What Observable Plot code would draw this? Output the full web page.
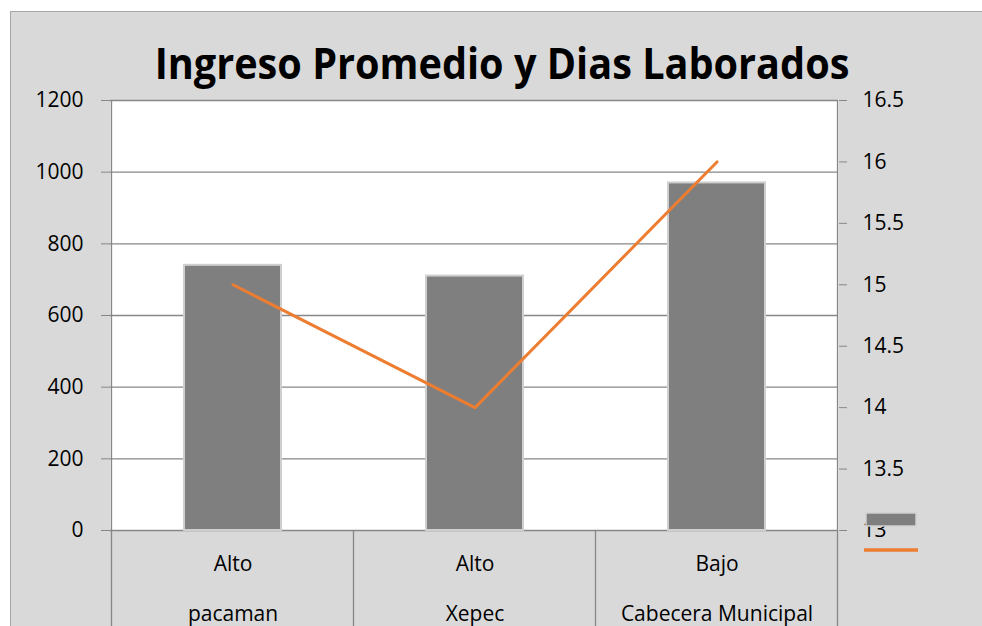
<!DOCTYPE html>
<html>
<head>
<meta charset="utf-8">
<script src="https://cdn.jsdelivr.net/npm/d3@7"></script>
<script src="https://cdn.jsdelivr.net/npm/@observablehq/plot@0.6"></script>
<style>
  html, body { margin: 0; padding: 0; background: #ffffff; overflow: hidden; width: 982px; height: 626px; }
  #frame { position: absolute; left: 10px; top: 11px; width: 1000px; height: 700px; background: #d9d9d9; border: 1px solid #a6a6a6; box-sizing: border-box; }
  #chart { position: absolute; left: 0; top: 0; }
</style>
</head>
<body>
<div id="frame"></div>
<div id="chart"></div>
<script>
const zonas = ["Alto", "Alto", "Bajo"];
const lugares = ["pacaman", "Xepec", "Cabecera Municipal"];
const ingreso = [740, 710, 970];
const dias = [15, 14, 16];
const leftTicks = [0, 200, 400, 600, 800, 1000, 1200];
const rightTicks = [13, 13.5, 14, 14.5, 15, 15.5, 16, 16.5];
const titulo = "Ingreso Promedio y Dias Laborados";

const leftDomain = [0, 1200];
const rightDomain = [13, 16.5];
const toLeft = v => (v - rightDomain[0]) / (rightDomain[1] - rightDomain[0]) * (leftDomain[1] - leftDomain[0]) + leftDomain[0];
const fromLeft = v => (v - leftDomain[0]) / (leftDomain[1] - leftDomain[0]) * (rightDomain[1] - rightDomain[0]) + rightDomain[0];

const data = lugares.map((l, i) => ({zona: zonas[i], lugar: l, ingreso: ingreso[i], dias: dias[i]}));

const gray = "#878787";
const orange = "#ed7d31";
const barFill = "#7f7f7f";

const chart = Plot.plot({
  width: 982,
  height: 626,
  marginLeft: 110,
  marginRight: 144,
  marginTop: 100,
  marginBottom: 96,
  style: {background: "transparent", fontFamily: "'Open Sans', sans-serif", fontSize: "21px", color: "#000"},
  x: {domain: lugares, paddingInner: 0.6, paddingOuter: 0.3, axis: null},
  y: {domain: leftDomain, axis: null},
  marks: [
    Plot.frame({fill: "white", stroke: null}),
    Plot.gridY(leftTicks, {stroke: gray, strokeOpacity: 1, strokeWidth: 1.3}),
    Plot.barY(data, {x: "lugar", y: "ingreso", fill: barFill, stroke: "#cfcfcf", strokeWidth: 2}),
    Plot.lineY(data, {x: "lugar", y: d => toLeft(d.dias), stroke: orange, strokeWidth: 3}),
    Plot.axisY(leftTicks, {anchor: "left", label: null, tickSize: 9, tickPadding: 18, stroke: gray, strokeOpacity: 1, fill: "#000", fontSize: 21,
      tickFormat: d3.format("d")}),
    Plot.axisY(rightTicks.map(toLeft), {anchor: "right", label: null, tickSize: 8, tickPadding: 16, stroke: gray, strokeOpacity: 1, fill: "#000", fontSize: 21,
      tickFormat: d => d3.format("~")(+fromLeft(d).toFixed(2))}),
    Plot.text(data, {x: "lugar", y: 0, text: "zona", dy: 34, fill: "#000", fontSize: 21}),
    Plot.text(data, {x: "lugar", y: 0, text: "lugar", dy: 84, fill: "#000", fontSize: 21})
  ]
});

document.getElementById("chart").appendChild(chart);

// axis lines and category table separators, placed through the chart's scales
const xs = chart.scale("x");
const ys = chart.scale("y");
const svg = d3.select(chart);
const y0 = ys.apply(0), yTop = ys.apply(leftDomain[1]);
const centers = lugares.map(c => xs.apply(c) + xs.bandwidth / 2);
const bounds = [centers[0] - xs.step / 2, ...centers.map(c => c + xs.step / 2)];
const g = svg.append("g").attr("stroke", gray).attr("stroke-width", 1.3);
bounds.forEach((b, i) => {
  const edge = i === 0 || i === bounds.length - 1;
  g.append("line").attr("x1", b).attr("x2", b).attr("y1", edge ? yTop : y0).attr("y2", 626);
});

// title (condensed to the reference's width with a horizontal scale)
const tg = svg.append("g");
const tt = tg.append("text")
  .attr("x", 0).attr("y", 0)
  .attr("text-anchor", "middle")
  .attr("font-family", "'Open Sans', sans-serif")
  .attr("font-weight", "bold")
  .attr("font-size", 43)
  .attr("fill", "#000")
  .text(titulo);
const natural = tt.node().getComputedTextLength() || 695;
tg.attr("transform", `translate(502,79) scale(${695 / natural},1)`);

// legend (no labels in the reference)
const lg = svg.append("g");
lg.append("rect").attr("x", 866).attr("y", 513).attr("width", 50).attr("height", 13)
  .attr("fill", barFill).attr("stroke", "#cfcfcf").attr("stroke-width", 1.5);
lg.append("line").attr("x1", 864).attr("x2", 918).attr("y1", 550).attr("y2", 550)
  .attr("stroke", orange).attr("stroke-width", 3.5);
</script>
</body>
</html>
